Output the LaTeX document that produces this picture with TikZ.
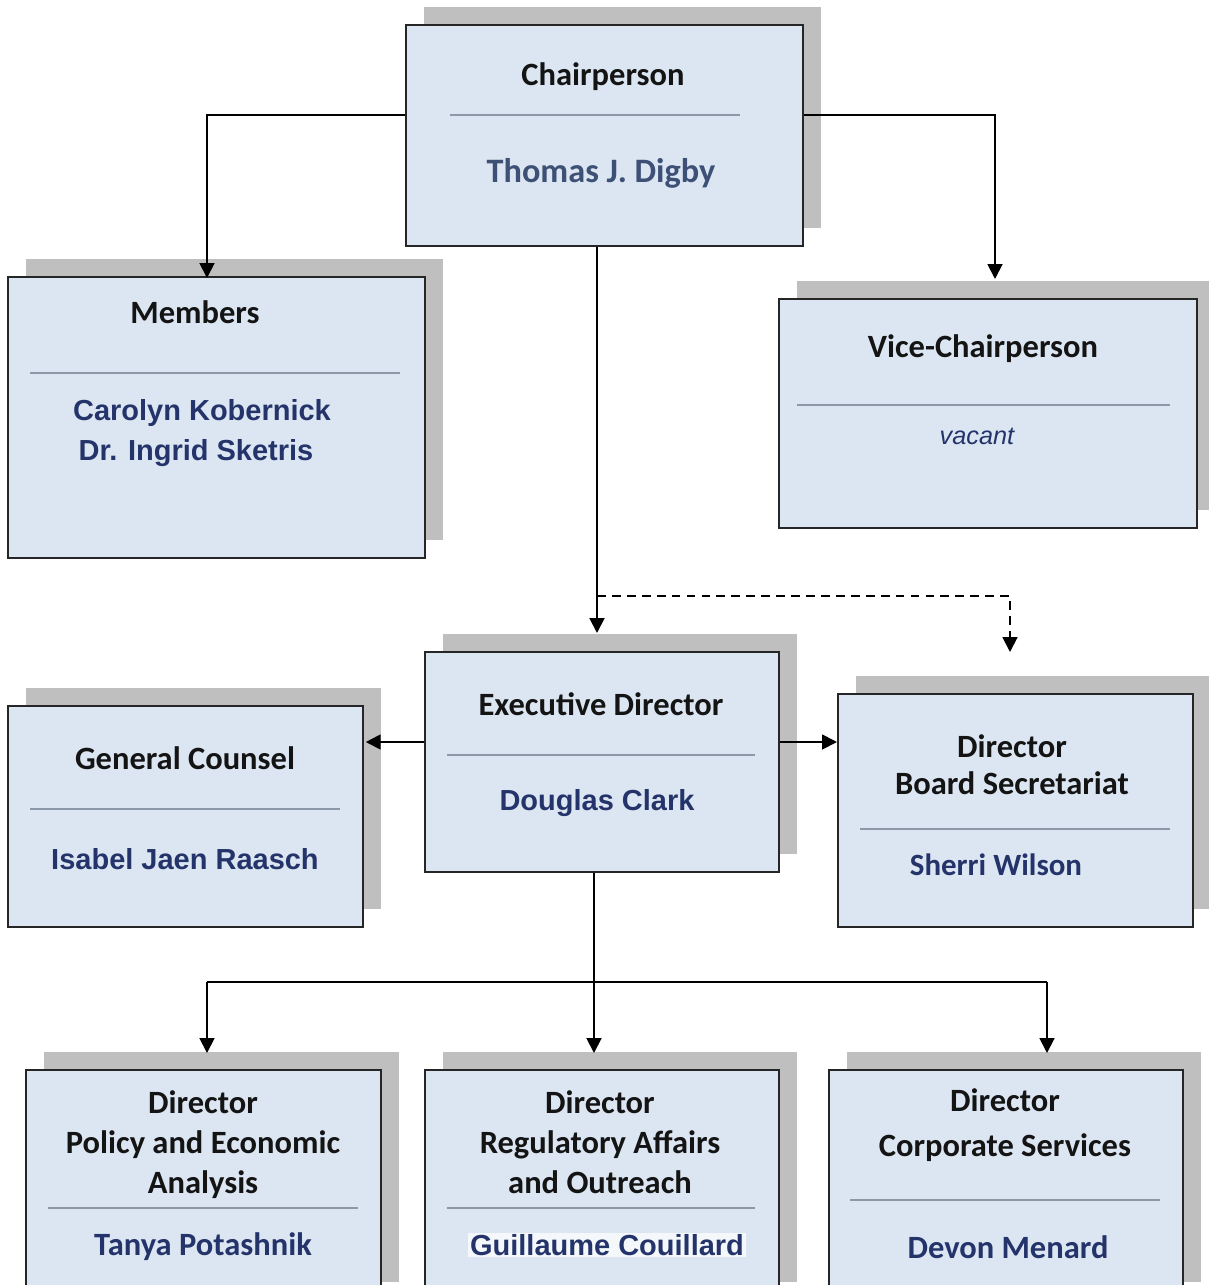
\documentclass[tikz,border=0pt]{standalone}
\usepackage{fontspec}
\setmainfont{Carlito}
\newfontfamily\arialfont{Liberation Sans}
\usetikzlibrary{arrows.meta,shadows}

\definecolor{boxfill}{HTML}{DCE6F2}
\definecolor{boxshade}{HTML}{BFBFBF}
\definecolor{boxline}{HTML}{262626}
\definecolor{rulegray}{HTML}{8A98A8}
\definecolor{titleink}{HTML}{141414}
\definecolor{nameink}{HTML}{24346A}
\definecolor{slateink}{HTML}{3D5075}

\tikzset{
  org box/.style={rectangle,draw=boxline,line width=1.2pt,fill=boxfill,
    drop shadow={shadow xshift=.36cm,shadow yshift=.36cm,fill=boxshade,opacity=1}},
  title text/.style={align=center,text=titleink,font=\fontsize{18.5}{22.7}\selectfont\bfseries},
  name text/.style={align=center,text=nameink,font=\arialfont\fontsize{16.5}{20}\selectfont\bfseries},
  name calibri/.style={align=center,text=nameink,font=\fontsize{18.5}{22}\selectfont\bfseries},
  divider/.style={draw=rulegray,line width=.8pt},
  link/.style={draw=black,line width=1.1pt,-{Triangle[length=8.5pt,width=8.5pt]}},
  dashed link/.style={link,dashed,dash pattern=on 5pt off 3.5pt}
}

\begin{document}
\begin{tikzpicture}[x=0.02cm,y=-0.02cm]
    \useasboundingbox[fill=white] (0,0) rectangle (1209,1285);

    % boxes
    \node[org box,minimum width=7.94cm,minimum height=4.42cm] at (604.5,135.5) (chair) {};
    \node[org box,minimum width=8.34cm,minimum height=5.62cm] at (216.5,417.5) (members) {};
    \node[org box,minimum width=8.36cm,minimum height=4.58cm] at (988,413.5) (vice) {};
    \node[org box,minimum width=7.08cm,minimum height=4.40cm] at (602,762) (exec) {};
    \node[org box,minimum width=7.10cm,minimum height=4.42cm] at (185.5,816.5) (counsel) {};
    \node[org box,minimum width=7.10cm,minimum height=4.66cm] at (1015.5,810.5) (secretariat) {};
    \node[org box,minimum width=7.10cm,minimum height=4.60cm] at (203.5,1185) (policy) {};
    \node[org box,minimum width=7.08cm,minimum height=4.60cm] at (602,1185) (regulatory) {};
    \node[org box,minimum width=7.08cm,minimum height=4.60cm] at (1006,1185) (corporate) {};

    % dividers
    \draw[divider] (450,115) -- (740,115);
    \draw[divider] (30,373) -- (400,373);
    \draw[divider] (797,405) -- (1170,405);
    \draw[divider] (447,755) -- (755,755);
    \draw[divider] (30,809) -- (340,809);
    \draw[divider] (860,829) -- (1170,829);
    \draw[divider] (48,1208) -- (358,1208);
    \draw[divider] (447,1208) -- (755,1208);
    \draw[divider] (850,1200) -- (1160,1200);

    % texts
    \node[title text] at (603,77) (chairT) {Chairperson};
    \node[name calibri,text=slateink,font=\fontsize{19.5}{22}\selectfont\bfseries] at (601,173) (chairN) {Thomas J. Digby};
    \node[title text] at (195,312) (membersT) {Members};
    \node[name text] at (202,413) (membersA) {Carolyn Kobernick};
    \node[name text] at (196,453) (membersB) {Dr. Ingrid Sketris};
    \node[title text] at (983,349) (viceT) {Vice-Chairperson};
    \node[text=nameink,font=\arialfont\fontsize{14.4}{17}\selectfont\itshape] at (977,436) (viceN) {vacant};
    \node[title text] at (601,704) (execT) {Executive Director};
    \node[name text] at (597,803) (execN) {Douglas Clark};
    \node[title text] at (185,758) (counselT) {General Counsel};
    \node[name text] at (185,859) (counselN) {Isabel Jaen Raasch};
    \node[title text,font=\fontsize{18.5}{21}\selectfont\bfseries] at (1012,765) (secretariatT) {Director\\Board Secretariat};
    \node[name calibri,font=\fontsize{17.6}{21}\selectfont\bfseries] at (996,865) (secretariatN) {Sherri Wilson};
    \node[title text] at (203,1145) (policyT) {Director\\Policy and Economic\\Analysis};
    \node[name calibri] at (203,1247) (policyN) {Tanya Potashnik};
    \node[title text] at (600,1142) (regulatoryT) {Director\\Regulatory Affairs\\and Outreach};
    \node[name text,fill=white!70!boxfill,inner sep=1pt] at (607,1245) (regulatoryN) {Guillaume Couillard};
    \node[title text,font=\fontsize{18.5}{26}\selectfont\bfseries] at (1005,1125) (corporateT) {Director\\Corporate Services};
    \node[name calibri] at (1008,1247) (corporateN) {Devon Menard};

    % connector ends
    \coordinate (chairRow) at (0,115);
    \coordinate (memIn) at (207,278);
    \coordinate (viceIn) at (995,279);
    \coordinate (execIn) at (597,633);
    \coordinate (split) at (597,596);
    \coordinate (secIn) at (1010,652);
    \coordinate (execRow) at (0,742);
    \coordinate (bus) at (594,982);
    \coordinate (polIn) at (207,1053);
    \coordinate (regIn) at (594,1053);
    \coordinate (corIn) at (1047,1053);

    \draw[link] (chair.west |- chairRow) -| (memIn);
    \draw[link] (chair.east |- chairRow) -| (viceIn);
    \draw[link] (chair.south -| execIn) -- (execIn);
    \draw[dashed link] (split) -| (secIn);
    \draw[link] (exec.west |- execRow) -- ([xshift=1pt]counsel.east |- execRow);
    \draw[link] (exec.east |- execRow) -- (secretariat.west |- execRow);
    \draw[line width=1.1pt] (polIn |- bus) -- (corIn |- bus);
    \draw[link] (polIn |- bus) -- (polIn);
    \draw[link] (corIn |- bus) -- (corIn);
    \draw[link] (exec.south -| regIn) -- (regIn);
\end{tikzpicture}
\end{document}
